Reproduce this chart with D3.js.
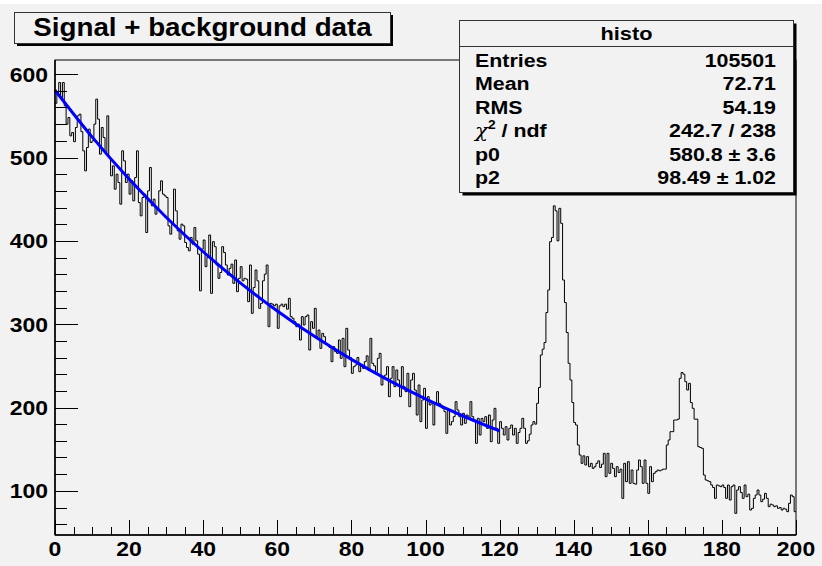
<!DOCTYPE html>
<html><head><meta charset="utf-8">
<script src="https://cdn.jsdelivr.net/npm/d3@7"></script>
<style>html,body{margin:0;padding:0;background:#f2f2f2;}svg{display:block;}</style>
</head><body>
<svg id="c" width="822" height="566"></svg>
<script>
// ---- data (bin contents, bin width 0.5, range 0..200) ----
const histRange = [0, 200];
const binWidth = 0.5;
const bins0to60 = [
 565,578,590,572,590,562,540,548,526,530,519,536,550,552,531,508,484,512,534,518,
 520,540,570,546,504,536,524,506,550,500,478,490,462,480,470,444,508,496,470,480,
 456,472,448,476,508,446,430,452,456,410,460,488,442,450,432,438,460,472,456,454,
 452,418,408,420,462,436,412,402,420,418,398,392,388,404,396,416,400,384,340,390,
 401,369,380,407,337,399,393,371,355,362,393,386,371,359,367,372,349,377,339,355,
 369,352,355,354,327,371,313,344,365,352,319,325,352,360,371,297,325,324,322,324];
const bins60to120 = [
 295,322,324,321,324,318,331,309,307,303,297,300,281,309,299,309,311,269,303,295,
 319,285,293,271,289,285,276,275,272,255,273,267,265,281,259,283,249,295,269,260,
 241,249,251,260,243,250,247,255,262,245,283,253,250,242,259,265,227,236,239,249,
 213,235,249,225,245,233,213,249,225,219,241,201,233,241,221,191,227,183,209,223,
 175,213,203,207,179,205,219,205,203,199,195,169,197,179,183,189,207,197,189,179,
 193,181,191,187,207,189,185,157,187,167,187,183,189,175,191,159,185,199,175,157];
const bins120to160 = [
 183,175,167,177,161,175,179,167,175,157,170,175,187,175,157,160,168,179,183,180,
 205,224,263,270,278,314,341,399,404,442,436,400,439,421,353,326,290,253,233,206,
 182,179,155,143,133,142,131,141,129,133,127,129,133,136,128,132,145,117,145,121,
 133,127,117,129,122,126,91,133,111,135,109,125,109,108,125,137,129,109,137,109];
const bins160to200 = [
 97,129,111,121,123,125,124,125,126,126,155,161,171,171,185,185,186,235,242,240,
 231,221,229,206,199,186,186,153,152,151,119,113,112,111,107,104,91,107,106,105,
 107,104,91,107,89,105,107,73,101,105,98,91,107,93,96,77,79,91,95,101,
 95,87,90,97,91,81,84,83,81,82,79,80,77,79,78,75,85,95,93,75];
const counts = [].concat(bins0to60, bins60to120, bins120to160, bins160to200);

// fit curve (x, value)
const fitX = [0,10,20,30,40,50,60,70,80,90,100,110,120];
const fitY = [580.8,524.7,474.1,428.3,386.9,349.6,315.9,285.4,257.8,232.9,210.4,190.1,171.8];

const xTicks = [0,20,40,60,80,100,120,140,160,180,200];
const yTicks = [100,200,300,400,500,600];
const yDomain = [47, 617];

const titleText = "Signal + background data";
const statsTitle = "histo";
const statsLabels = ["Entries","Mean","RMS","CHI","p0","p2"];
const statsValues = ["105501","72.71","54.19","242.7 / 238","580.8 \u00b1 3.6","98.49 \u00b1 1.02"];

// ---- drawing ----
const svg = d3.select("#c");
const F = "'Liberation Sans', Arial, Helvetica, sans-serif";
svg.append("rect").attr("x",0).attr("y",0).attr("width",822).attr("height",566).attr("fill","#f2f2f2");
svg.append("rect").attr("x",0).attr("y",0).attr("width",822).attr("height",4).attr("fill","#ffffff");

const L = 55, R = 796, T = 60, B = 535;
const x = d3.scaleLinear().domain(histRange).range([L, R]);
const y = d3.scaleLinear().domain(yDomain).range([B, T]);

function txt(g, px, py, s, size, anchor, sx) {
  return g.append("text")
    .attr("transform", `translate(${px},${py}) scale(${sx||1.12},1)`)
    .attr("text-anchor", anchor || "start")
    .attr("font-family", F).attr("font-weight", "bold")
    .attr("font-size", size).attr("fill", "#000").text(s);
}

// frame
svg.append("rect").attr("x",L).attr("y",T).attr("width",R-L).attr("height",B-T)
  .attr("fill","none").attr("stroke","#000").attr("stroke-width",1);

// histogram step path
svg.append("clipPath").attr("id","clp").append("rect")
  .attr("x",L).attr("y",T).attr("width",R-L).attr("height",B-T);
let d = "";
counts.forEach((c,i) => {
  const x0 = x(histRange[0] + i*binWidth), x1 = x(histRange[0] + (i+1)*binWidth);
  d += (i===0 ? `M${x0},${y(c)}` : `V${y(c)}`) + `H${x1}`;
});
svg.append("path").attr("d", d).attr("fill","none").attr("stroke","#000")
  .attr("stroke-width",1).attr("clip-path","url(#clp)");

// fit curve
const line = d3.line().x((v,i)=>x(fitX[i])).y(v=>y(v)).curve(d3.curveNatural);
svg.append("path").attr("d", line(fitY)).attr("fill","none")
  .attr("stroke","#0000ff").attr("stroke-width",3);

// axes ticks
const ax = svg.append("g").attr("stroke","#000").attr("stroke-width",1);
d3.range(0, 201, 5).forEach(v => {
  const major = v % 20 === 0;
  const px = Math.round(x(v)) + 0.5;
  ax.append("line").attr("x1",px).attr("x2",px).attr("y1",B).attr("y2",B-(major?15:8));
});
d3.range(60, 601, 20).forEach(v => {
  const major = v % 100 === 0;
  const py = Math.round(y(v)) + 0.5;
  ax.append("line").attr("x1",L).attr("x2",L+(major?23:12)).attr("y1",py).attr("y2",py);
});
ax.append("line").attr("x1",L).attr("x2",R).attr("y1",B).attr("y2",B).attr("stroke-width",1.5);
ax.append("line").attr("x1",L).attr("x2",L).attr("y1",T).attr("y2",B).attr("stroke-width",1.5);

// tick labels
xTicks.forEach(v => txt(svg, x(v), 556, String(v), 20.5, "middle"));
yTicks.forEach(v => txt(svg, 48, y(v) + 7.5, String(v), 20.5, "end"));

// title box
svg.append("rect").attr("x",17).attr("y",15).attr("width",376).attr("height",31).attr("fill","#000");
svg.append("rect").attr("x",14.5).attr("y",12.5).attr("width",376).attr("height",31)
  .attr("fill","#f2f2f2").attr("stroke","#333").attr("stroke-width",1);
txt(svg, 202.5, 35.5, titleText, 25, "middle", 1.11);

// stats box
const sbx = 459.5, sby = 20.5, sbw = 334, sbh = 172;
svg.append("rect").attr("x",sbx+3).attr("y",sby+3).attr("width",sbw).attr("height",sbh).attr("fill","#000");
svg.append("rect").attr("x",sbx).attr("y",sby).attr("width",sbw).attr("height",sbh)
  .attr("fill","#f2f2f2").attr("stroke","#333").attr("stroke-width",1);
svg.append("line").attr("x1",sbx).attr("x2",sbx+sbw).attr("y1",46.5).attr("y2",46.5).attr("stroke","#333");
txt(svg, sbx+sbw/2, 40, statsTitle, 18.6, "middle", 1.17);
const rowY = [66.5, 90, 113.6, 137.2, 160.8, 184.4];
statsLabels.forEach((lab,i) => {
  if (lab === "CHI") {
    const t = txt(svg, 475, rowY[i], "", 18.6, "start", 1.15);
    t.append("tspan").attr("font-family","'DejaVu Serif', serif").attr("font-style","italic").attr("font-weight","normal").text("\u03c7");
    t.append("tspan").attr("font-size",12).attr("dy",-8).text("2");
    t.append("tspan").attr("dy",8).text(" / ndf");
  } else {
    txt(svg, 475, rowY[i], lab, 18.6, "start", 1.15);
  }
  txt(svg, 776, rowY[i], statsValues[i], 18.6, "end", 1.15);
});
</script>
</body></html>
